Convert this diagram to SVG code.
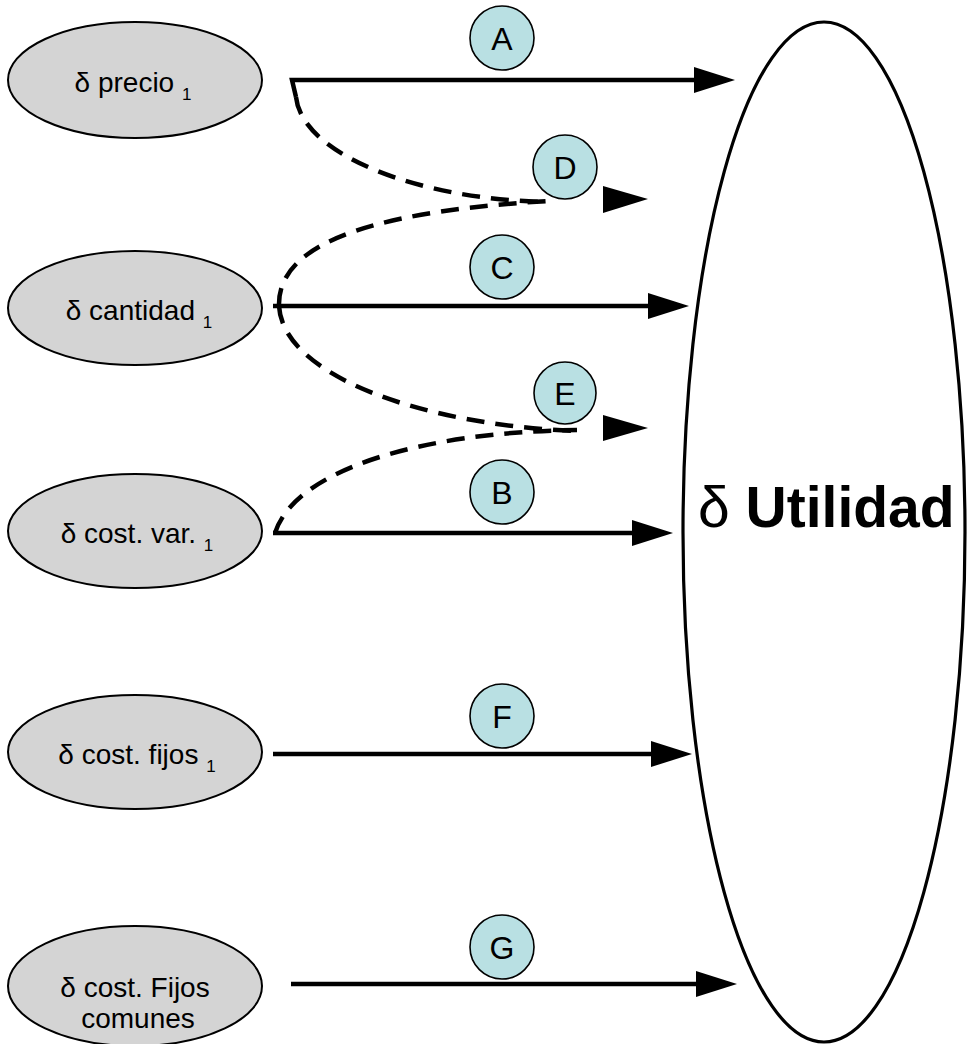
<svg xmlns="http://www.w3.org/2000/svg" width="968" height="1044" viewBox="0 0 968 1044">
<style>
.node{fill:#d4d4d4;stroke:#000;stroke-width:2}
.lbl{font-family:"Liberation Sans",Arial,sans-serif;font-size:28px;fill:#000;text-anchor:middle}
.sub{font-size:17px}
.tag{fill:#b9e0e3;stroke:#000;stroke-width:1.6}
.tagt{font-family:"Liberation Sans",Arial,sans-serif;font-size:32px;fill:#000;text-anchor:middle}
.solid{fill:none;stroke:#000;stroke-width:4.5}
.dash{fill:none;stroke:#000;stroke-width:4.5;stroke-dasharray:18 11}
.head{fill:#000}
</style>
<defs>
<marker id="arr" viewBox="0 0 41 26" refX="6" refY="13" markerWidth="41" markerHeight="26" markerUnits="userSpaceOnUse" orient="auto">
<path d="M0,0 L41,13 L0,26 z" fill="#000"/>
</marker>
</defs>
<rect width="968" height="1044" fill="#fff"/>

<g id="utilidad">
<ellipse cx="824" cy="532" rx="141" ry="510" fill="#fff" stroke="#000" stroke-width="3.2"/>
<text x="698" y="527" font-family="Liberation Sans,Arial,sans-serif" font-size="57" fill="#000">δ <tspan font-weight="bold">Utilidad</tspan></text>
</g>

<g id="connectors">
<path class="solid" d="M296,97 L292,80 L700,80" marker-end="url(#arr)"/>
<path class="solid" d="M273,306 L654,306" marker-end="url(#arr)"/>
<path class="solid" d="M273,533 L638,533" marker-end="url(#arr)"/>
<path class="solid" d="M273,754 L657,754" marker-end="url(#arr)"/>
<path class="solid" d="M291,984 L702,984" marker-end="url(#arr)"/>
<path class="dash" d="M296,97 C302,155 420,200 548,202"/>
<path class="dash" d="M279,306 C277,235 400,210 548,201"/>
<path class="dash" d="M279,306 C283,375 420,425 577,431"/>
<path class="dash" d="M275,533 C295,470 420,432 577,430"/>
<path class="head" d="M603,186 L648,199 L603,213 z"/>
<path class="head" d="M603,415 L648,428 L603,441 z"/>
</g>

<g id="n-precio">
<ellipse class="node" cx="135" cy="80" rx="127" ry="58"/>
<text class="lbl" x="133" y="92">δ precio <tspan class="sub" dy="8">1</tspan></text>
</g>
<g id="n-cantidad">
<ellipse class="node" cx="135" cy="308" rx="127" ry="57"/>
<text class="lbl" x="139" y="320">δ cantidad <tspan class="sub" dy="8">1</tspan></text>
</g>
<g id="n-costvar">
<ellipse class="node" cx="135" cy="531" rx="127" ry="57"/>
<text class="lbl" x="137" y="543">δ cost. var. <tspan class="sub" dy="8">1</tspan></text>
</g>
<g id="n-costfijos">
<ellipse class="node" cx="135" cy="752" rx="127" ry="57"/>
<text class="lbl" x="137" y="764">δ cost. fijos <tspan class="sub" dy="8">1</tspan></text>
</g>
<g id="n-fijoscomunes">
<ellipse class="node" cx="135" cy="986" rx="127" ry="60"/>
<text class="lbl" x="135" y="997">δ cost. Fijos</text>
<text class="lbl" x="138" y="1028">comunes</text>
</g>

<g id="tag-A"><circle class="tag" cx="502" cy="38" r="32"/><text class="tagt" x="502" y="50">A</text></g>
<g id="tag-D"><circle class="tag" cx="565" cy="167" r="32"/><text class="tagt" x="565" y="179">D</text></g>
<g id="tag-C"><circle class="tag" cx="502" cy="267" r="32"/><text class="tagt" x="502" y="279">C</text></g>
<g id="tag-E"><circle class="tag" cx="565" cy="393" r="31"/><text class="tagt" x="565" y="405">E</text></g>
<g id="tag-B"><circle class="tag" cx="502" cy="492" r="32"/><text class="tagt" x="502" y="504">B</text></g>
<g id="tag-F"><circle class="tag" cx="502" cy="716" r="32"/><text class="tagt" x="502" y="728">F</text></g>
<g id="tag-G"><circle class="tag" cx="502" cy="947" r="32"/><text class="tagt" x="502" y="959">G</text></g>
</svg>
